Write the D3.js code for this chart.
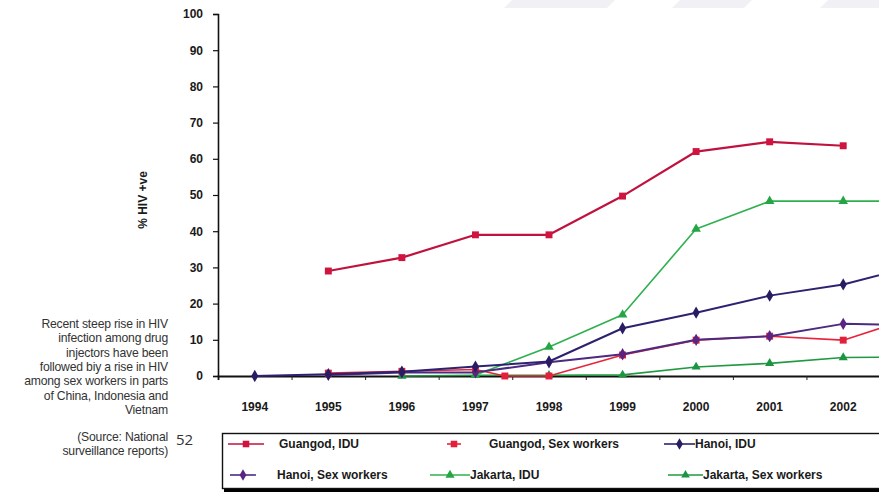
<!DOCTYPE html>
<html>
<head>
<meta charset="utf-8">
<script src="https://cdn.jsdelivr.net/npm/d3@7/dist/d3.min.js"></script>
<style>
  html, body { margin: 0; padding: 0; background: #fff; }
  svg { display: block; }
</style>
</head>
<body>
<svg id="chart" width="879" height="495"></svg>
<script>
// Survey years (the last one lies just past the right edge of the plot)
const years = [1994, 1995, 1996, 1997, 1998, 1999, 2000, 2001, 2002, 2003];
const yearLabels = ["1994", "1995", "1996", "1997", "1998", "1999", "2000", "2001", "2002"];
const yTicks = [0, 10, 20, 30, 40, 50, 60, 70, 80, 90, 100];

// % HIV positive, by site and group
const guangodIDU = [null, 29, 32.7, 39, 39, 49.7, 62, 64.7, 63.6, null];
const guangodSWYears = [1995, 1996, 1997, 1997.4, 1998, 1999, 2000, 2001, 2002, 2003];
const guangodSW = [0.8, 1.3, 1.8, 0, 0, 5.8, 9.9, 11, 9.9, 16.5];
const hanoiIDU = [0, 0.5, 1.2, 2.6, 4.0, 13.2, 17.5, 22.2, 25.3, 30.5];
const hanoiSW = [null, 0.3, 1.0, 1.0, 3.8, 6.0, 10.0, 11.0, 14.4, 14.0];
const jakartaIDU = [null, null, null, 0.3, 8.0, 16.9, 40.6, 48.3, 48.3, 48.3];
const jakartaSW = [null, null, 0, 0.2, 0.2, 0.3, 2.5, 3.5, 5.1, 5.3];

const seriesNames = ["Guangod, IDU", "Guangod, Sex workers", "Hanoi, IDU",
                     "Hanoi, Sex workers", "Jakarta, IDU", "Jakarta, Sex workers"];

const noteLines = ["Recent steep rise in HIV", "infection among drug", "injectors have been",
                   "followed biy a rise in HIV", "among sex workers in parts",
                   "of China, Indonesia and", "Vietnam"];
const sourceLines = ["(Source: National", "surveillance reports)"];
const pageNumber = "52";

const series = [
  { name: seriesNames[0], xs: years, ys: guangodIDU, line: "#c0123e", mark: "#d0143f", symbol: d3.symbolSquare, size: 48, width: 2.2 },
  { name: seriesNames[1], xs: guangodSWYears, ys: guangodSW, line: "#e8243c", mark: "#e3203c", symbol: d3.symbolSquare, size: 48, width: 1.6 },
  { name: seriesNames[2], xs: years, ys: hanoiIDU, line: "#2c2270", mark: "#2a1c62", symbol: d3.symbolDiamond, size: 44, width: 2.0 },
  { name: seriesNames[3], xs: years, ys: hanoiSW, line: "#4b2a80", mark: "#5b2382", symbol: d3.symbolDiamond, size: 44, width: 2.0 },
  { name: seriesNames[4], xs: years, ys: jakartaIDU, line: "#2fb04e", mark: "#25a545", symbol: d3.symbolTriangle, size: 40, width: 1.6 },
  { name: seriesNames[5], xs: years, ys: jakartaSW, line: "#1f9a40", mark: "#1d9540", symbol: d3.symbolTriangle, size: 36, width: 1.6 }
];

const svg = d3.select("#chart");
const font = "'Liberation Sans', Arial, sans-serif";
const narrow = "'Liberation Sans Narrow', 'Arial Narrow', 'Liberation Sans', sans-serif";

// faint slide stripes along the top edge
const stripes = [[512, 615], [680, 752], [828, 895]];
svg.selectAll("polygon.stripe").data(stripes).join("polygon")
  .attr("points", d => `${d[0]},0 ${d[1]},0 ${d[1] - 8},8 ${d[0] - 8},8`)
  .attr("fill", "#f1f1f5");

const plot = { left: 218, right: 880, top: 14, bottom: 376 };
const x = d3.scaleLinear().domain([1993.5, 2002.5]).range([plot.left, plot.right]);
const y = d3.scaleLinear().domain([0, 100]).range([plot.bottom, plot.top]);

svg.append("clipPath").attr("id", "plotclip")
  .append("rect").attr("x", plot.left).attr("y", 0).attr("width", plot.right - plot.left).attr("height", plot.bottom + 6);

// y axis
const yAxis = svg.append("g").attr("transform", `translate(${plot.left},0)`)
  .call(d3.axisLeft(y).tickValues(yTicks).tickSize(5).tickPadding(10));
yAxis.select(".domain").attr("stroke", "#111").attr("stroke-width", 1.6);
yAxis.selectAll(".tick line").attr("stroke", "#111").attr("stroke-width", 1.2);
yAxis.selectAll(".tick text").attr("font-family", font).attr("font-weight", "bold")
  .attr("font-size", 12).attr("fill", "#1a1a1a");

// x axis with ticks between the years
const xAxis = svg.append("g").attr("transform", `translate(0,${plot.bottom})`)
  .call(d3.axisBottom(x).tickValues(years.slice(0, 9).map(v => v + 0.5)).tickSize(4).tickFormat(""));
xAxis.select(".domain").attr("stroke", "#111").attr("stroke-width", 1.8);
xAxis.selectAll(".tick line").attr("stroke", "#222").attr("stroke-width", 1);
svg.append("g").selectAll("text").data(yearLabels).join("text")
  .attr("x", d => x(+d)).attr("y", plot.bottom + 35)
  .attr("text-anchor", "middle").attr("font-family", font).attr("font-weight", "bold")
  .attr("font-size", 12).attr("fill", "#1a1a1a").text(d => d);

// y title
svg.append("text").attr("transform", `translate(147,200) rotate(-90)`)
  .attr("text-anchor", "middle").attr("font-family", font).attr("font-weight", "bold")
  .attr("font-size", 12).attr("fill", "#1a1a1a").text("% HIV +ve");

// series lines and markers
const g = svg.append("g").attr("clip-path", "url(#plotclip)");
const drawOrder = [5, 4, 1, 3, 2, 0];
drawOrder.forEach(i => {
  const s = series[i];
  const pts = s.xs.map((xv, k) => [xv, s.ys[k]]).filter(p => p[1] !== null);
  const line = d3.line().x(p => x(p[0])).y(p => y(p[1]));
  g.append("path").attr("d", line(pts)).attr("fill", "none")
    .attr("stroke", s.line).attr("stroke-width", s.width).attr("stroke-linejoin", "round");
  g.selectAll(null).data(pts).join("path")
    .attr("transform", p => `translate(${x(p[0])},${y(p[1])})`)
    .attr("d", d3.symbol().type(s.symbol).size(s.size))
    .attr("fill", s.mark);
});

// note block on the left
svg.append("g").selectAll("text").data(noteLines).join("text")
  .attr("x", 168).attr("y", (d, i) => 328 + i * 14.3)
  .attr("text-anchor", "end").attr("font-family", narrow)
  .attr("font-size", 12.2).attr("letter-spacing", -0.2).attr("fill", "#333").text(d => d);
svg.append("g").selectAll("text").data(sourceLines).join("text")
  .attr("x", 168).attr("y", (d, i) => 441 + i * 14.3)
  .attr("text-anchor", "end").attr("font-family", narrow)
  .attr("font-size", 12.2).attr("letter-spacing", -0.2).attr("fill", "#333").text(d => d);
svg.append("text").attr("x", 176).attr("y", 445).attr("font-family", "'Open Sans', sans-serif")
  .attr("font-size", 15).attr("fill", "#333").text(pageNumber);

// legend
const lg = svg.append("g");
lg.append("rect").attr("x", 224).attr("y", 488).attr("width", 660).attr("height", 4).attr("fill", "#000");
lg.append("rect").attr("x", 222.5).attr("y", 433.5).attr("width", 660).attr("height", 55)
  .attr("fill", "#fff").attr("stroke", "#111").attr("stroke-width", 1.4);
const slots = [
  { lx0: 228, lx1: 264, tx: 279, ty: 448 },
  { lx0: 447, lx1: 461, tx: 489, ty: 448 },
  { lx0: 664, lx1: 695, tx: 695, ty: 448 },
  { lx0: 230, lx1: 256, tx: 277, ty: 479 },
  { lx0: 430, lx1: 470, tx: 470, ty: 479 },
  { lx0: 668, lx1: 703, tx: 703, ty: 479 }
];
series.forEach((s, i) => {
  const p = slots[i];
  const cx = (p.lx0 + p.lx1) / 2;
  lg.append("line").attr("x1", p.lx0).attr("x2", p.lx1).attr("y1", p.ty - 4).attr("y2", p.ty - 4)
    .attr("stroke", s.line).attr("stroke-width", 1.6);
  lg.append("path").attr("transform", `translate(${cx},${p.ty - 4})`)
    .attr("d", d3.symbol().type(s.symbol).size(s.size * 0.9)).attr("fill", s.mark);
  lg.append("text").attr("x", p.tx).attr("y", p.ty).attr("font-family", font)
    .attr("font-weight", "bold").attr("font-size", 12).attr("fill", "#1a1a1a").text(s.name);
});
</script>
</body>
</html>
